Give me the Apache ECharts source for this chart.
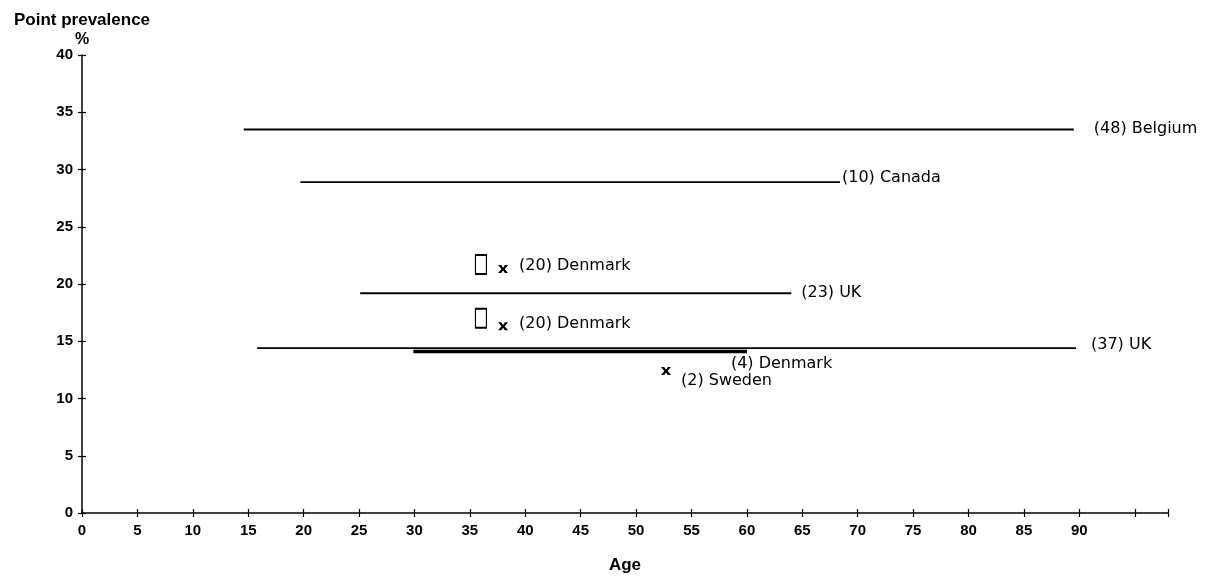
<!DOCTYPE html>
<html><head><meta charset="utf-8">
<script src="https://cdn.jsdelivr.net/npm/echarts@6/dist/echarts.min.js"></script>
<style>html,body{margin:0;padding:0;background:#fff}#c{width:1213px;height:579px}</style>
</head><body><div id="c"></div>
<script>
// ---- data ----
const rangeNames = ['(48) Belgium', '(10) Canada', '(23) UK', '(37) UK', '(4) Denmark'];
const rangeFrom = [14.6, 19.7, 25.1, 15.8, 29.9];
const rangeTo = [89.5, 68.4, 64.0, 89.7, 60.0];
const rangePrevalence = [33.5, 28.9, 19.2, 14.4, 14.1];

const pointNames = ['(20) Denmark', '(20) Denmark', '(2) Sweden'];
const pointAge = [38.0, 38.0, 52.7];
const pointPrevalence = [21.3, 16.3, 12.4];

const boxAge = [36.0, 36.0];
const boxPrevalence = [21.7, 17.0];

const xTickLabels = ['0','5','10','15','20','25','30','35','40','45','50','55','60','65','70','75','80','85','90'];
const yTickLabels = ['0','5','10','15','20','25','30','35','40'];

// ---- styles (kept apart from data) ----
const FONT = 'Liberation Sans, Arial, sans-serif';
const LFONT = 'DejaVu Sans, sans-serif';
const rangeStyle = [
  {w: 2,   label: {distance: 20, offset: [0, -1]}},
  {w: 1.6, label: {distance: 2,  offset: [0, -4]}},
  {w: 2,   label: {distance: 10, offset: [0, 0]}},
  {w: 1.6, label: {distance: 15, offset: [0, -3]}},
  {w: 3.5, label: {distance: 5,  offset: [-21, 12]}}
];
const pointStyle = [
  {distance: 11, offset: [0, -3]},
  {distance: 11, offset: [0, -3]},
  {distance: 5,  offset: [5, 10]}
];
const X_PATH = 'path://M0,0H3.2L5,2.6L6.8,0H10L6.6,4L10,8H6.8L5,5.4L3.2,8H0L3.4,4Z';

const series = [];
rangeNames.forEach((name, i) => {
  series.push({
    type: 'line',
    name: name,
    xAxisIndex: 0, yAxisIndex: 0,
    data: [[rangeFrom[i], rangePrevalence[i]], [rangeTo[i], rangePrevalence[i]]],
    symbol: 'none',
    lineStyle: {color: '#000', width: rangeStyle[i].w},
    endLabel: {
      show: true,
      formatter: name,
      color: '#000',
      fontFamily: LFONT,
      fontSize: 16,
      distance: rangeStyle[i].label.distance,
      offset: rangeStyle[i].label.offset
    },
    silent: true,
    z: 3
  });
});

series.push({
  type: 'scatter',
  name: 'points',
  data: pointNames.map((n, i) => ({
    value: [pointAge[i], pointPrevalence[i]],
    label: {
      show: true, position: 'right', formatter: n,
      distance: pointStyle[i].distance, offset: pointStyle[i].offset,
      color: '#000', opacity: 1, fontFamily: LFONT, fontSize: 16
    }
  })),
  symbol: X_PATH,
  symbolSize: [10, 8],
  itemStyle: {color: '#000', opacity: 1},
  silent: true,
  z: 4
});

series.push({
  type: 'scatter',
  name: 'boxes',
  data: boxAge.map((a, i) => [a, boxPrevalence[i]]),
  symbol: 'rect',
  symbolSize: [11, 19],
  itemStyle: {color: '#fff', borderColor: '#000', borderWidth: 1.5, opacity: 1},
  silent: true,
  z: 4
});

const tickLabelStyle = {color: '#000', fontFamily: FONT, fontSize: 15, fontWeight: 'bold'};

const option = {
  animation: false,
  backgroundColor: '#fff',
  title: {
    text: 'Point prevalence', left: 9, top: 7,
    textStyle: {color: '#000', fontFamily: FONT, fontSize: 17, fontWeight: 'bold'}
  },
  grid: {left: 82, right: 45, top: 55, bottom: 66, containLabel: false},
  xAxis: [
    {
      type: 'value', min: 0, max: 98, interval: 5,
      name: 'Age', nameLocation: 'middle', nameGap: 44,
      nameTextStyle: {color: '#000', fontFamily: FONT, fontSize: 17, fontWeight: 'bold'},
      axisLine: {show: true, lineStyle: {color: '#000', width: 1.5}},
      axisTick: {show: true, length: 4, lineStyle: {color: '#000', width: 1.2}},
      axisLabel: Object.assign({margin: 10, formatter: v => {
        const s = String(v); return xTickLabels.indexOf(s) >= 0 ? s : '';
      }}, tickLabelStyle),
      splitLine: {show: false}
    },
    {
      type: 'value', min: 0, max: 98, interval: 5, position: 'bottom', gridIndex: 0,
      axisLine: {show: false},
      axisTick: {show: true, inside: true, length: 4, lineStyle: {color: '#000', width: 1.2}},
      axisLabel: {show: false},
      splitLine: {show: false}
    }
  ],
  yAxis: [
    {
      type: 'value', min: 0, max: 40, interval: 5,
      name: '%', nameLocation: 'end', nameGap: 7,
      nameTextStyle: {color: '#000', fontFamily: FONT, fontSize: 16, fontWeight: 'bold', align: 'center'},
      axisLine: {show: true, lineStyle: {color: '#000', width: 1.5}},
      axisTick: {show: true, length: 4, lineStyle: {color: '#000', width: 1.2}},
      axisLabel: Object.assign({margin: 9, formatter: v => {
        const s = String(v); return yTickLabels.indexOf(s) >= 0 ? s : '';
      }}, tickLabelStyle),
      splitLine: {show: false}
    },
    {
      type: 'value', min: 0, max: 40, interval: 5, position: 'left',
      axisLine: {show: false},
      axisTick: {show: true, inside: true, length: 4, lineStyle: {color: '#000', width: 1.2}},
      axisLabel: {show: false},
      splitLine: {show: false}
    }
  ],
  series: series
};

const chart = echarts.init(document.getElementById('c'), null, {renderer: 'canvas'});
chart.setOption(option);
</script>
</body></html>
